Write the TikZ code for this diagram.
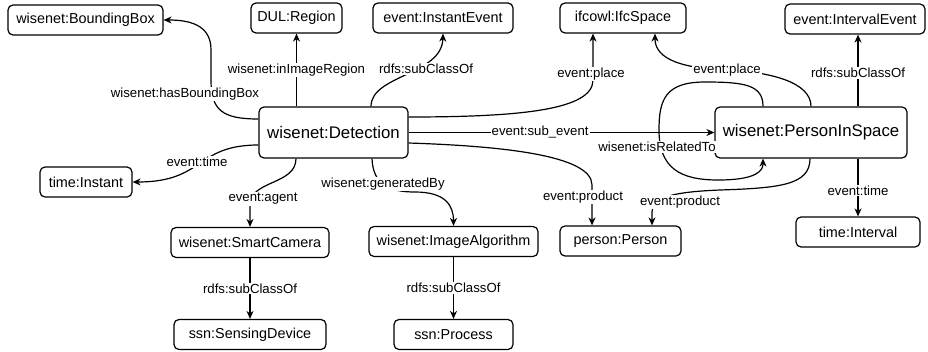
\documentclass[tikz,border=0pt]{standalone}
\usepackage{fontspec}
\setmainfont{Liberation Sans}
\usetikzlibrary{arrows.meta}
\tikzstyle{cls} = [draw, rounded corners=5pt, line width=1.2pt, minimum height=30pt, inner sep=0pt, font=\fontsize{14.4}{17}\selectfont]
\tikzstyle{bigcls} = [cls, minimum height=51pt, font=\fontsize{16.8}{20}\selectfont]
\tikzstyle{lbl} = [fill=white, inner sep=1pt, font=\fontsize{13.2}{15}\selectfont]
\tikzstyle{rel} = [line width=1.2pt, -{Stealth[length=8pt, width=7pt, inset=2.5pt]}]

\begin{document}
\begin{tikzpicture}[x=1pt, y=-1pt]
                \useasboundingbox (0,0) rectangle (928,351);
                % classes
                \node[cls, minimum width=155pt] (bbox) at (85.5,20) {wisenet:BoundingBox};
                \node[cls, minimum width=91pt] (region) at (296.5,18) {DUL:Region};
                \node[cls, minimum width=140pt] (instev) at (443,18) {event:InstantEvent};
                \node[cls, minimum width=126pt] (space) at (623,18) {ifcowl:IfcSpace};
                \node[cls, minimum width=140pt] (intev) at (855,19) {event:IntervalEvent};
                \node[bigcls, minimum width=149pt] (detect) at (333.5,132.5) {wisenet:Detection};
                \node[bigcls, minimum width=192pt] (pis) at (811,132.5) {wisenet:PersonInSpace};
                \node[cls, minimum width=92pt] (instant) at (86,182) {time:Instant};
                \node[cls, minimum width=158pt] (camera) at (250,242.5) {wisenet:SmartCamera};
                \node[cls, minimum width=169pt] (algo) at (453.5,241.5) {wisenet:ImageAlgorithm};
                \node[cls, minimum width=121pt] (person) at (620.5,241) {person:Person};
                \node[cls, minimum width=124pt] (interval) at (858,232) {time:Interval};
                \node[cls, minimum width=152pt] (device) at (250,334.5) {ssn:SensingDevice};
                \node[cls, minimum width=119pt] (process) at (453.5,334.5) {ssn:Process};
                % relations of the detection
                \draw[rel] ([yshift=13.5pt]detect.west) .. controls (222,119) and (211,110) .. (211,80) -- (211,50) .. controls (211,28) and (195,20) .. (bbox.east);
                \node[lbl] (lbbox) at (185,94) {wisenet:hasBoundingBox};
                \draw[rel] (region.south |- detect.north) -- node[lbl] (lregion) {wisenet:inImageRegion} (region.south);
                \draw[rel] ([xshift=37.5pt]detect.north) .. controls (371,75) and (442,75) .. (instev.south);
                \node[lbl] (linst) at (426,69) {rdfs:subClassOf};
                \draw[rel] ([yshift=15.5pt]detect.east) .. controls (520,117) and (593,110) .. (593,80) -- ([xshift=-30pt]space.south);
                \node[lbl] (lplace) at (591,74) {event:place};
                \draw[rel] (detect.east) -- node[lbl, pos=0.43] (lsub) {event:sub\_event} (pis.west);
                \draw[rel] ([yshift=-10.5pt]detect.east) .. controls (500,146) and (592,155) .. (592,185) -- ([xshift=-28.5pt]person.north);
                \node[lbl] (lprod) at (583,197) {event:product};
                \draw[rel] ([yshift=-12.5pt]detect.west) .. controls (195,145) and (205,182) .. (instant.east);
                \node[lbl] (ltime) at (197,162) {event:time};
                \draw[rel] ([xshift=-37.5pt]detect.south) .. controls (296,185) and (250,180) .. (250,205) -- (camera.north);
                \node[lbl] (lagent) at (263,199) {event:agent};
                \draw[rel] ([xshift=38.5pt]detect.south) .. controls (373,185) and (390,192) .. (415,192) .. controls (445,192) and (453.5,205) .. (algo.north);
                \node[lbl] (lgen) at (383,184) {wisenet:generatedBy};
                \draw[rel] (camera.south) -- node[lbl] (lcam) {rdfs:subClassOf} (device.north);
                \draw[rel] (algo.south) -- node[lbl] (lalgo) {rdfs:subClassOf} (process.north);
                % relations of the person in space
                \draw[rel] (pis.north) .. controls (811,82) and (770,72) .. (727,70) .. controls (672,68) and (655,55) .. ([xshift=32pt]space.south);
                \node[lbl] (lplace2) at (727,70) {event:place};
                \draw[rel] ([xshift=47pt]pis.north) -- node[lbl, pos=0.47] (lint) {rdfs:subClassOf} ([xshift=47pt]pis.north |- intev.south);
                \draw[rel] ([xshift=47pt]pis.south) -- node[lbl, pos=0.55] (ltime2) {event:time} (interval.north);
                \draw[rel] ([xshift=-48pt]pis.north) .. controls (763,85) and (745,82) .. (705,82) .. controls (665,82) and (659,100) .. (659,130) .. controls (659,168) and (680,180) .. (718,180) .. controls (758,180) and (763,170) .. ([xshift=-48pt]pis.south);
                \node[lbl] (lrel) at (657,147) {wisenet:isRelatedTo};
                \draw[rel] ([xshift=-1pt]pis.south) .. controls (810,185) and (780,188) .. (720,190) .. controls (670,192) and (652,198) .. (652,212) -- ([xshift=31.5pt]person.north);
                \node[lbl] (lprod2) at (680,202) {event:product};
            \end{tikzpicture}
\end{document}
